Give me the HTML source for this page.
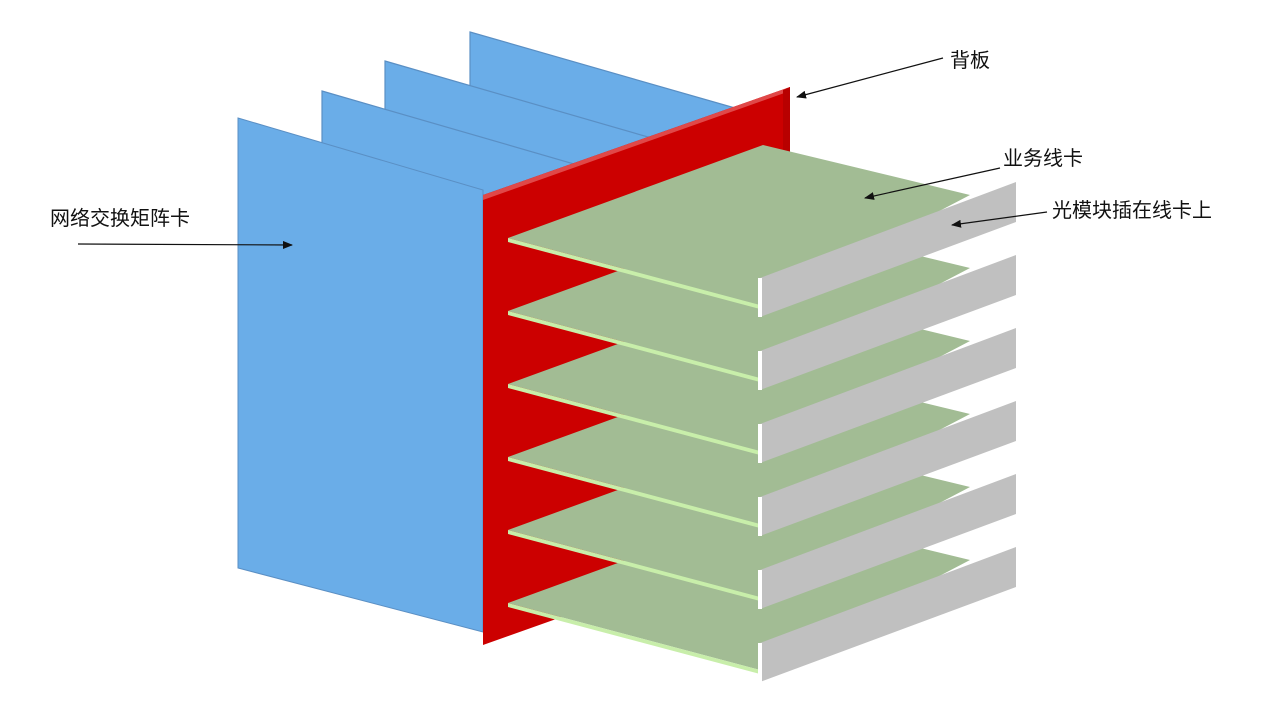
<!DOCTYPE html>
<html><head><meta charset="utf-8"><style>
html,body{margin:0;padding:0;background:#fff;}
svg{display:block;}
text{font-family:"Liberation Sans","Noto Sans CJK SC",sans-serif;font-size:20px;fill:#111;}
</style></head><body>
<svg width="1267" height="713" viewBox="0 0 1267 713" xmlns="http://www.w3.org/2000/svg">
<defs>
<marker id="ah" markerWidth="10" markerHeight="8" refX="9" refY="4" orient="auto" markerUnits="userSpaceOnUse">
<path d="M0,0 L10,4 L0,8 z" fill="#111"/>
</marker>
</defs>
<!-- blue panels back to front -->
<g fill="#6aade8" stroke="#5a8fc4" stroke-width="1.2">
<polygon points="470,32 735,108 735,400 470,330"/>
<polygon points="385,61 700,152 700,420 385,330"/>
<polygon points="322,91 650,186 650,440 322,350"/>
</g>
<polygon points="238,118 483,190 483,632 238,568" fill="#6aade8" stroke="#5a8fc4" stroke-width="1"/>
<!-- red backplane -->
<polygon points="483,195 790,87 790,536 483,645" fill="#cc0000"/>
<polygon points="483,195 790,87 790,91 483,200" fill="#e04848"/>
<polygon points="783,90 790,87 790,536 783,539" fill="#b80000"/>
<!-- boards, bottom first -->
<g id="boards">
<g transform="translate(0,365)">
<polygon points="508,238 763,145 970,195 760,305" fill="#a2bc94"/>
<polygon points="508,238 760,305 760,309 508,242" fill="#c8eeaa"/>
<polygon points="760,278 1016,182 1016,222 760,317" fill="#c0c0c0"/>
<rect x="758" y="278" width="4" height="39" fill="#fff"/>
</g>
<g transform="translate(0,292)">
<polygon points="508,238 763,145 970,195 760,305" fill="#a2bc94"/>
<polygon points="508,238 760,305 760,309 508,242" fill="#c8eeaa"/>
<polygon points="760,278 1016,182 1016,222 760,317" fill="#c0c0c0"/>
<rect x="758" y="278" width="4" height="39" fill="#fff"/>
</g>
<g transform="translate(0,219)">
<polygon points="508,238 763,145 970,195 760,305" fill="#a2bc94"/>
<polygon points="508,238 760,305 760,309 508,242" fill="#c8eeaa"/>
<polygon points="760,278 1016,182 1016,222 760,317" fill="#c0c0c0"/>
<rect x="758" y="278" width="4" height="39" fill="#fff"/>
</g>
<g transform="translate(0,146)">
<polygon points="508,238 763,145 970,195 760,305" fill="#a2bc94"/>
<polygon points="508,238 760,305 760,309 508,242" fill="#c8eeaa"/>
<polygon points="760,278 1016,182 1016,222 760,317" fill="#c0c0c0"/>
<rect x="758" y="278" width="4" height="39" fill="#fff"/>
</g>
<g transform="translate(0,73)">
<polygon points="508,238 763,145 970,195 760,305" fill="#a2bc94"/>
<polygon points="508,238 760,305 760,309 508,242" fill="#c8eeaa"/>
<polygon points="760,278 1016,182 1016,222 760,317" fill="#c0c0c0"/>
<rect x="758" y="278" width="4" height="39" fill="#fff"/>
</g>
<g>
<polygon points="508,238 763,145 970,195 760,305" fill="#a2bc94"/>
<polygon points="508,238 760,305 760,309 508,242" fill="#c8eeaa"/>
<polygon points="760,278 1016,182 1016,222 760,317" fill="#c0c0c0"/>
<rect x="758" y="278" width="4" height="39" fill="#fff"/>
</g>
</g>
<!-- labels and arrows -->
<text x="50" y="225">网络交换矩阵卡</text>
<line x1="78" y1="244" x2="292" y2="245" stroke="#111" stroke-width="1.2" marker-end="url(#ah)"/>
<text x="950" y="67">背板</text>
<line x1="943" y1="58" x2="797" y2="97" stroke="#111" stroke-width="1.2" marker-end="url(#ah)"/>
<text x="1003" y="165">业务线卡</text>
<line x1="1000" y1="168" x2="865" y2="198" stroke="#111" stroke-width="1.2" marker-end="url(#ah)"/>
<text x="1052" y="217">光模块插在线卡上</text>
<line x1="1047" y1="212" x2="952" y2="225" stroke="#111" stroke-width="1.2" marker-end="url(#ah)"/>
</svg>
</body></html>
